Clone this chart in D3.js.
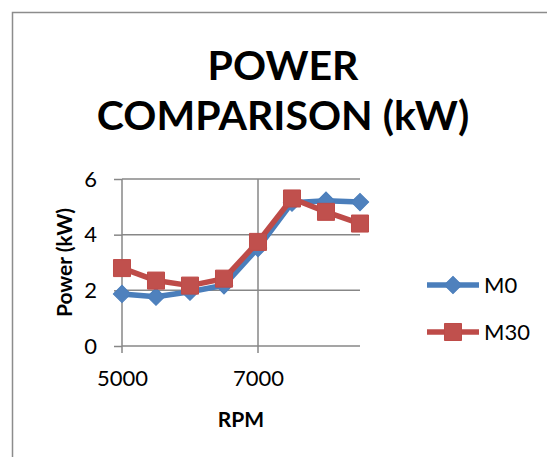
<!DOCTYPE html>
<html>
<head>
<meta charset="utf-8">
<script src="https://cdn.jsdelivr.net/npm/d3@7"></script>
<style>
  html, body { margin: 0; padding: 0; background: #fff; }
  svg text { font-family: Lato, "Open Sans", sans-serif; fill: #000; }
</style>
</head>
<body>
<div id="chart"></div>
<script>
// chart data
const rpm = [5000, 5500, 6000, 6500, 7000, 7500, 8000, 8500];
const m0 = [1.87, 1.77, 1.95, 2.18, 3.52, 5.15, 5.22, 5.17];
const m30 = [2.8, 2.35, 2.17, 2.42, 3.74, 5.3, 4.82, 4.4];
const seriesNames = ["M0", "M30"];
const xTicks = [5000, 7000];
const yTicks = [0, 2, 4, 6];
const titleLines = ["POWER", "COMPARISON (kW)"];

const width = 547, height = 457;

const svg = d3.select("#chart").append("svg")
    .attr("width", width)
    .attr("height", height);

// chart frame (only top and left edges are in view)
svg.append("path")
    .attr("d", `M12.5,${height} V12.5 H${width}`)
    .attr("fill", "none")
    .attr("stroke", "#8c8c8c")
    .attr("stroke-width", 1.5);

const x = d3.scaleLinear().domain([5000, 8500]).range([122, 360]);
const y = d3.scaleLinear().domain([0, 6]).range([346, 179]);

// title
svg.append("g")
  .selectAll("text")
  .data(titleLines)
  .join("text")
    .attr("x", 283)
    .attr("y", (d, i) => 80 + i * 50)
    .attr("text-anchor", "middle")
    .attr("font-size", 41)
    .attr("font-weight", "bold")
    .text(d => d);

const grid = "#878787";

// horizontal gridlines
svg.append("g")
  .selectAll("line")
  .data(yTicks)
  .join("line")
    .attr("x1", x(5000)).attr("x2", x(8500))
    .attr("y1", d => y(d)).attr("y2", d => y(d))
    .attr("stroke", grid).attr("stroke-width", 1.5);

// vertical gridlines
svg.append("g")
  .selectAll("line")
  .data(xTicks)
  .join("line")
    .attr("x1", d => x(d)).attr("x2", d => x(d))
    .attr("y1", y(6)).attr("y2", y(0) + 7)
    .attr("stroke", grid).attr("stroke-width", 1.5);

// y axis tick marks + labels
const yAxis = svg.append("g")
    .attr("transform", `translate(${x(5000)},0)`)
    .call(d3.axisLeft(y).tickValues(yTicks).tickSize(8).tickPadding(17).tickFormat(d3.format("d")));
yAxis.select(".domain").remove();
yAxis.selectAll(".tick line").attr("stroke", grid).attr("stroke-width", 1.5);
yAxis.selectAll(".tick text").attr("font-size", 22).attr("font-family", "Lato, sans-serif");

// x axis labels
const xAxis = svg.append("g")
    .attr("transform", `translate(0,${y(0)})`)
    .call(d3.axisBottom(x).tickValues(xTicks).tickSize(0).tickPadding(24).tickFormat(d3.format("d")));
xAxis.select(".domain").remove();
xAxis.selectAll(".tick text").attr("font-size", 22).attr("font-family", "Lato, sans-serif");

// axis titles
svg.append("text")
    .attr("x", 241).attr("y", 427)
    .attr("text-anchor", "middle")
    .attr("font-size", 21).attr("font-weight", "bold")
    .text("RPM");

svg.append("text")
    .attr("transform", `translate(72,${(y(0) + y(6)) / 2}) rotate(-90)`)
    .attr("text-anchor", "middle")
    .attr("font-size", 21).attr("font-weight", "bold")
    .text("Power (kW)");

// series
const series = [
  { name: seriesNames[0], values: m0, line: "#4A7EBB", fill: "#4F81BD",
    symbol: d3.symbol(d3.symbolSquare, 150), rotate: 45 },
  { name: seriesNames[1], values: m30, line: "#BE4B48", fill: "#C0504D",
    symbol: d3.symbol(d3.symbolSquare, 290), rotate: 0 }
];

const line = d3.line()
    .x((d, i) => x(rpm[i]))
    .y(d => y(d));

series.forEach(s => {
  const g = svg.append("g");
  g.append("path")
      .attr("d", line(s.values))
      .attr("fill", "none")
      .attr("stroke", s.line)
      .attr("stroke-width", 5.5)
      .attr("stroke-linejoin", "round");
  g.selectAll("path.mark")
    .data(s.values)
    .join("path")
      .attr("class", "mark")
      .attr("d", s.symbol)
      .attr("transform", (d, i) => `translate(${x(rpm[i])},${y(d)}) rotate(${s.rotate})`)
      .attr("fill", s.fill)
      .attr("stroke", s.line)
      .attr("stroke-width", 1);
});

// legend
const legend = svg.append("g")
  .selectAll("g")
  .data(series)
  .join("g")
    .attr("transform", (d, i) => `translate(427,${285 + i * 47})`);

legend.append("line")
    .attr("x1", 0).attr("x2", 52)
    .attr("stroke", d => d.line)
    .attr("stroke-width", 5.5);

legend.append("path")
    .attr("d", d => d.symbol())
    .attr("transform", d => `translate(26,0) rotate(${d.rotate})`)
    .attr("fill", d => d.fill)
    .attr("stroke", d => d.line);

legend.append("text")
    .attr("x", 57)
    .attr("y", 8)
    .attr("font-size", 22)
    .text(d => d.name);
</script>
</body>
</html>
